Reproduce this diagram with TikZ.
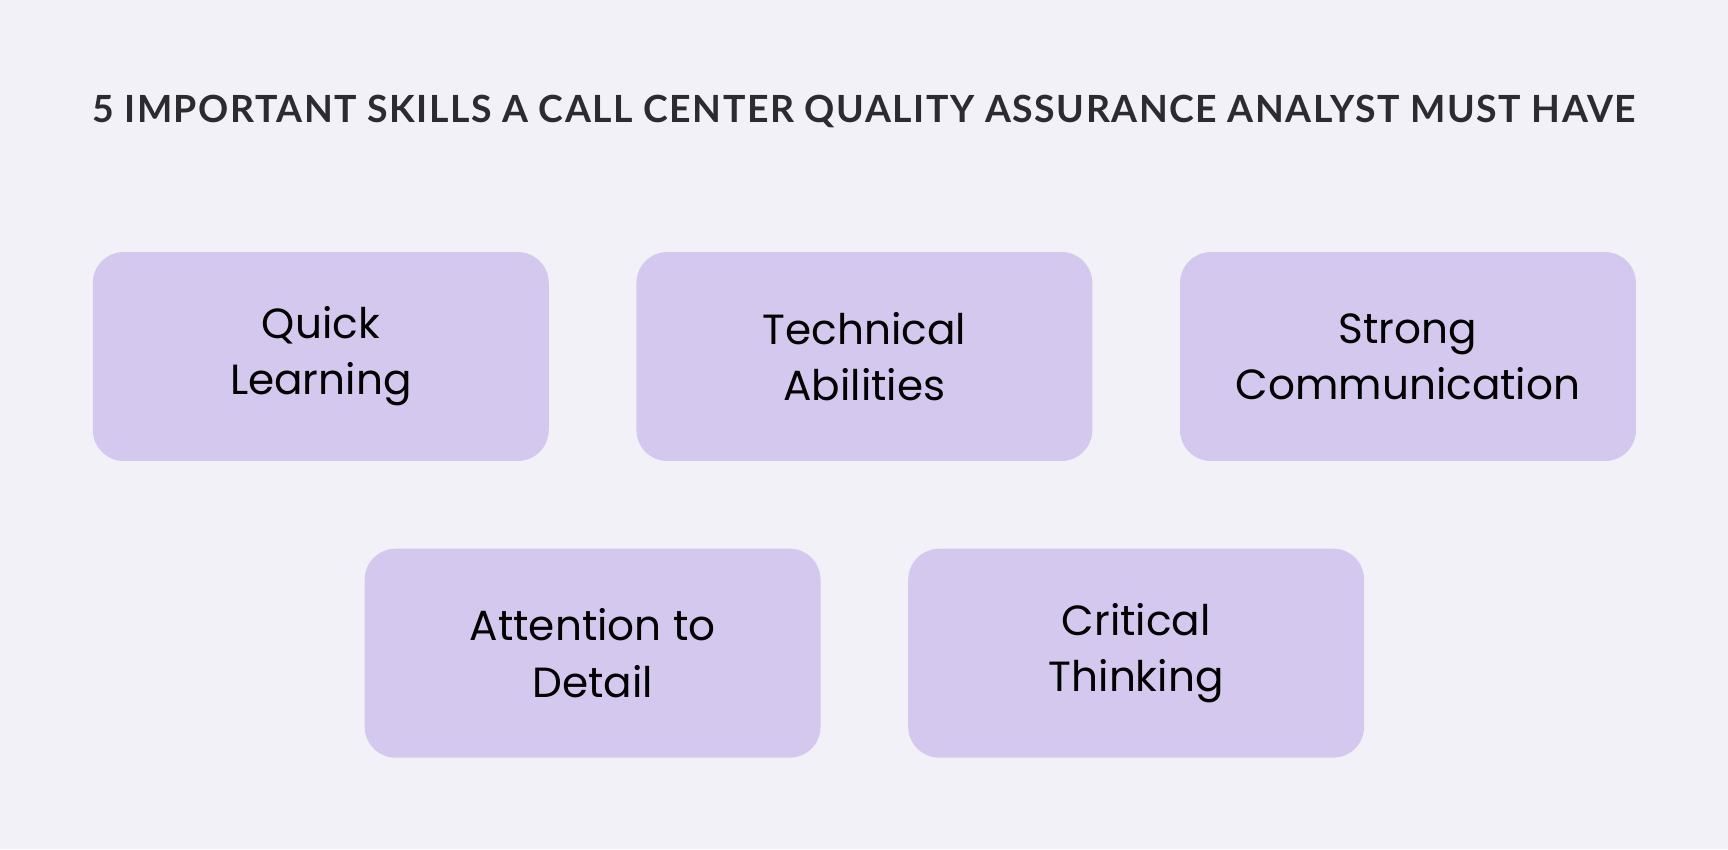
\documentclass[tikz,border=0pt]{standalone}
\usepackage{fontspec}
\setmainfont{Poppins}
\newfontfamily\titlefont[LetterSpace=4]{Lato}
\usetikzlibrary{positioning}

\definecolor{pagebg}{HTML}{F2F1F7}
\definecolor{skillfill}{HTML}{D4C8EE}
\definecolor{titleink}{HTML}{2B2B30}

\begin{document}
\begin{tikzpicture}[
  x=0.02cm, y=-0.02cm,
  skill/.style={rectangle, rounded corners=0.62cm, fill=skillfill, align=center,
                minimum width=9.12cm, minimum height=4.18cm,
                font=\fontsize{24}{31.9}\selectfont, text=black},
  heading/.style={font=\titlefont\bfseries\fontsize{21.3}{25}\selectfont, text=titleink}
]
\fill[pagebg] (0,0) rectangle (1728,849);
\useasboundingbox (0,0) rectangle (1728,849);

\node[heading] (title) at (864,111)
  {5 IMPORTANT SKILLS A CALL CENTER QUALITY ASSURANCE ANALYST MUST HAVE};

% first row
\node[skill] (learn) at (320.8,356.5) {Quick\\Learning};
\node[skill, right=1.74cm of learn] (tech) {Technical\\Abilities};
\node[skill, right=1.74cm of tech] (comm) {Strong\\Communication};

% second row
\node[skill, below=1.74cm of learn.south east, anchor=north, xshift=0.87cm] (detail)
  {Attention to\\Detail};
\node[skill, right=1.74cm of detail] (think) {Critical\\Thinking};
\end{tikzpicture}
\end{document}
